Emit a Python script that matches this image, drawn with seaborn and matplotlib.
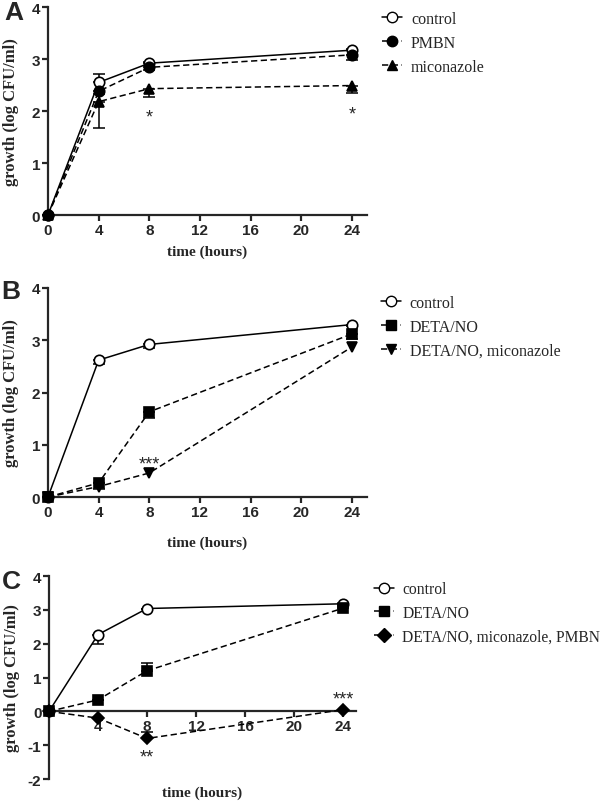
import numpy as np
import pandas as pd
import matplotlib
matplotlib.use("Agg")
import matplotlib.pyplot as plt
import seaborn as sns
from matplotlib.lines import Line2D

# Data (log CFU/ml growth)
hours = [0, 4, 8, 24]

# Panel A
a_control = [0, 2.55, 2.92, 3.17]
a_control_err = [0, 0.17, 0.03, 0.03]      # upward
a_pmbn = [0, 2.38, 2.84, 3.08]
a_pmbn_err = [0, 0.05, 0.05, 0.10]         # downward
a_micon = [0, 2.18, 2.43, 2.49]
a_micon_err = [0, 0.50, 0.17, 0.15]        # downward

# Panel B
b_control = [0, 2.62, 2.92, 3.30]
b_control_err = [0, 0.07, 0.07, 0.03]      # downward
b_deta = [0, 0.27, 1.63, 3.12]
b_deta_err = [0, 0.12, 0.12, 0.10]         # downward
b_deta_mic = [0, 0.20, 0.46, 2.87]

# Panel C
c_control = [0, 2.27, 3.04, 3.18]
c_control_err = [0, 0.27, 0, 0]            # downward
c_deta = [0, 0.34, 1.20, 3.05]
c_deta_err = [0, 0, 0.22, 0.05]            # upward
c_combo = [0, -0.20, -0.80, 0.05]
c_combo_err = [0, 0, 0.18, 0]              # upward

sns.set_style("ticks")
plt.rcParams['font.family'] = ['Liberation Sans', 'DejaVu Sans']
plt.rcParams['axes.unicode_minus'] = False
plt.rcParams['lines.scale_dashes'] = False
plt.rcParams['lines.dashed_pattern'] = [4.5, 2.5]

serif = 'Liberation Serif'

fig = plt.figure(figsize=(6, 8.03), dpi=100)

def series(ax, y, marker, fill, ls, ms=7.5):
    sns.lineplot(x=hours, y=y, ax=ax, color='black', marker=marker, markersize=ms,
                 markerfacecolor=fill, markeredgecolor='black', markeredgewidth=1.2,
                 linestyle=ls, linewidth=1.1, clip_on=False, zorder=3)

def errs(ax, y, e, up):
    zero = [0] * len(e)
    yerr = [zero, e] if up else [e, zero]
    ax.errorbar(hours, y, yerr=yerr, fmt='none', ecolor='black', elinewidth=1.1,
                capsize=4.5, capthick=1.1, zorder=2, clip_on=False)

def style_axes(ax, ylim, yticks, xmax):
    sns.despine(ax=ax)
    ax.set_xlim(0, xmax)
    ax.set_ylim(*ylim)
    ax.set_yticks(yticks)
    ax.set_xticks([0, 4, 8, 12, 16, 20, 24])
    for s in ['left', 'bottom']:
        ax.spines[s].set_linewidth(1.6)
    ax.tick_params(width=1.6, length=4, pad=1.5, labelsize=11)
    for lab in ax.get_xticklabels() + ax.get_yticklabels():
        lab.set_fontweight('bold')
    ax.set_ylabel('growth (log CFU/ml)', fontfamily=serif, fontweight='bold', fontsize=12)
    ax.set_xlabel('time (hours)', fontfamily=serif, fontweight='bold', fontsize=11)

def legend(fig, left, top, items, size=11.5):
    handles = []
    for lab, marker, fill, ls in items:
        handles.append(Line2D([], [], color='black', marker=marker, markersize=7.5,
                              markerfacecolor=fill, markeredgecolor='black',
                              linestyle=ls, linewidth=1.1, label=lab))
    fig.legend(handles=handles, loc='upper left', bbox_to_anchor=(left, top),
               frameon=False, prop={'family': serif, 'size': size},
               handlelength=1.25, handletextpad=0.55, labelspacing=0.5,
               borderpad=0, borderaxespad=0)

# ---- Panel A ----
axA = fig.add_axes([0.08, 0.731, 0.5317, 0.259])
errs(axA, a_control, a_control_err, True)
errs(axA, a_pmbn, a_pmbn_err, False)
errs(axA, a_micon, a_micon_err, False)
series(axA, a_control, 'o', 'white', '-')
series(axA, a_pmbn, 'o', 'black', '--')
series(axA, a_micon, '^', 'black', '--')
style_axes(axA, (0, 4), [0, 1, 2, 3, 4], 25.2)
axA.text(8, 1.88, '*', ha='center', va='center', fontsize=13)
axA.text(24, 1.95, '*', ha='center', va='center', fontsize=13)
axA.xaxis.set_label_coords(0.5, -0.144)
axA.yaxis.set_label_coords(-0.09, 0.5)
legend(fig, 0.637, 1 - 12 / 803, [('control', 'o', 'white', '-'),
                                  ('PMBN', 'o', 'black', '--'),
                                  ('miconazole', '^', 'black', '--')])
fig.text(14 / 600, 1 - 13 / 803, 'A', fontsize=19, fontweight='bold', ha='center', va='center')

# ---- Panel B ----
axB = fig.add_axes([0.08, 0.3798, 0.5317, 0.2603])
errs(axB, b_control, b_control_err, False)
errs(axB, b_deta, b_deta_err, False)
series(axB, b_control, 'o', 'white', '-')
series(axB, b_deta_mic, 'v', 'black', '--')
series(axB, b_deta, 's', 'black', '--', ms=7)
style_axes(axB, (0, 4), [0, 1, 2, 3, 4], 25.2)
axB.text(8, 0.64, '***', ha='center', va='center', fontsize=13)
axB.xaxis.set_label_coords(0.5, -0.182)
axB.yaxis.set_label_coords(-0.09, 0.5)
legend(fig, 0.635, 1 - 296 / 803, [('control', 'o', 'white', '-'),
                                   ('DETA/NO', 's', 'black', '--'),
                                   ('DETA/NO, miconazole', 'v', 'black', '--')])
fig.text(11 / 600, 1 - 292 / 803, 'B', fontsize=19, fontweight='bold', ha='center', va='center')

# ---- Panel C ----
axC = fig.add_axes([0.0817, 0.0286, 0.5117, 0.2528])
errs(axC, c_control, c_control_err, False)
errs(axC, c_deta, c_deta_err, True)
errs(axC, c_combo, c_combo_err, True)
series(axC, c_control, 'o', 'white', '-')
series(axC, c_deta, 's', 'black', '--', ms=7)
series(axC, c_combo, 'D', 'black', '--', ms=6.5)
style_axes(axC, (-2, 4), [-2, -1, 0, 1, 2, 3, 4], 25.06)
axC.spines['bottom'].set_position(('data', 0))
axC.set_xticklabels(['', '4', '8', '12', '16', '20', '24'], fontweight='bold')
axC.text(8, -1.35, '**', ha='center', va='center', fontsize=13)
axC.text(24, 0.36, '***', ha='center', va='center', fontsize=13)
axC.xaxis.set_label_coords(0.5, -0.03)
axC.yaxis.set_label_coords(-0.095, 0.5)
legend(fig, 0.624, 1 - 582 / 803, [('control', 'o', 'white', '-'),
                                   ('DETA/NO', 's', 'black', '--'),
                                   ('DETA/NO, miconazole, PMBN', 'D', 'black', '--')],
       size=11.2)
fig.text(11 / 600, 1 - 582 / 803, 'C', fontsize=19, fontweight='bold', ha='center', va='center')

fig.savefig('out.png', dpi=100)
